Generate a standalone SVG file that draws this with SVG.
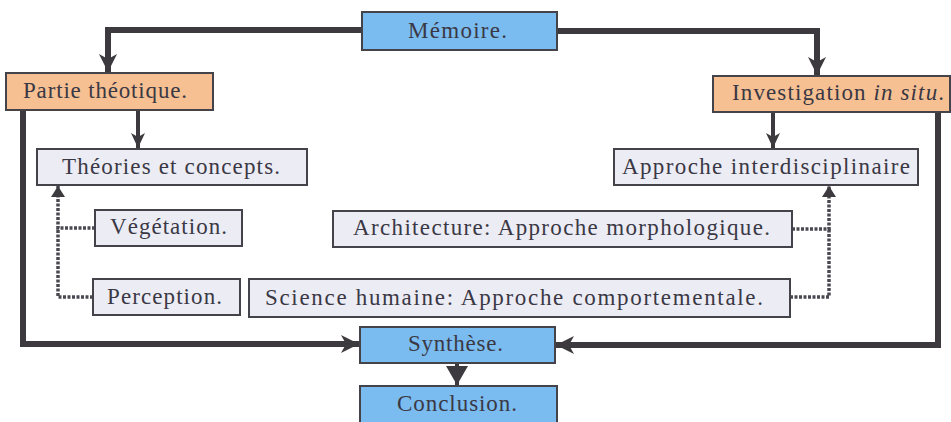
<svg xmlns="http://www.w3.org/2000/svg" width="951" height="422" viewBox="0 0 951 422">
  <style>
    .box { stroke: #45434a; stroke-width: 2; }
    .blue { fill: #7bbcf0; }
    .peach { fill: #f6c092; }
    .pale { fill: #ececf5; }
    text { font-family: "Liberation Serif", "Times New Roman", serif; font-size: 23px; fill: #3a3844; }
    .thick { fill: none; stroke: #3c3a3e; stroke-width: 6; }
    .thin { fill: none; stroke: #3c3a3e; stroke-width: 4; }
    .dot { fill: none; stroke: #4a4850; stroke-width: 3.5; stroke-dasharray: 3 1.5; }
  </style>
  <defs>
    <marker id="bigHead" markerUnits="userSpaceOnUse" markerWidth="20" markerHeight="20" viewBox="0 0 20 20" refX="18" refY="10" orient="auto">
      <path d="M0,1 L18,10 L0,19 L5,10 z" fill="#3c3a3e"/>
    </marker>
    <marker id="midHead" markerUnits="userSpaceOnUse" markerWidth="16" markerHeight="16" viewBox="0 0 16 16" refX="15" refY="8" orient="auto">
      <path d="M0,1 L15,8 L0,15 L4,8 z" fill="#3c3a3e"/>
    </marker>
    <marker id="dotHead" markerUnits="userSpaceOnUse" markerWidth="12" markerHeight="14" viewBox="0 0 12 14" refX="11" refY="7" orient="auto">
      <path d="M0,0 L11,7 L0,14 z" fill="#3c3a3e"/>
    </marker>
    <marker id="triHead" markerUnits="userSpaceOnUse" markerWidth="20" markerHeight="22" viewBox="0 0 20 22" refX="19" refY="11" orient="auto">
      <path d="M0,0 L19,11 L0,22 z" fill="#3c3a3e"/>
    </marker>
  </defs>

  <!-- connectors -->
  <g id="connectors">
    <path class="thick" d="M362,30 H108 V72" marker-end="url(#bigHead)"/>
    <path class="thick" d="M557,31 H817 V75" marker-end="url(#bigHead)"/>
    <path class="thin" d="M138,110 V148" marker-end="url(#midHead)"/>
    <path class="thin" d="M773,113 V148" marker-end="url(#midHead)"/>
    <path class="thick" d="M23,110 V344 H359" marker-end="url(#bigHead)"/>
    <path class="thick" d="M938,113 V345 H556" marker-end="url(#bigHead)"/>
    <path class="dot" d="M95,228 H58 V186" marker-end="url(#dotHead)"/>
    <path class="dot" d="M93,297 H58 V228"/>
    <path class="dot" d="M792,229 H829 V186" marker-end="url(#dotHead)"/>
    <path class="dot" d="M790,297 H829 V229"/>
    <path class="thin" d="M457,363 V385" marker-end="url(#triHead)"/>
  </g>

  <g id="memoire">
    <rect class="box blue" x="362" y="12" width="195" height="38"/>
    <text x="408" y="38" textLength="99" lengthAdjust="spacing">Mémoire.</text>
  </g>
  <g id="partie-theorique">
    <rect class="box peach" x="6" y="73" width="207" height="37"/>
    <text x="23" y="98" textLength="164" lengthAdjust="spacing">Partie théotique.</text>
  </g>
  <g id="investigation">
    <rect class="box peach" x="713" y="76" width="237" height="36"/>
    <text x="732" y="100" textLength="212" lengthAdjust="spacing">Investigation <tspan font-style="italic">in situ</tspan>.</text>
  </g>
  <g id="theories">
    <rect class="box pale" x="37" y="149" width="270" height="36"/>
    <text x="62" y="174" textLength="218" lengthAdjust="spacing">Théories et concepts.</text>
  </g>
  <g id="approche-inter">
    <rect class="box pale" x="614" y="149" width="304" height="36"/>
    <text x="622" y="174" textLength="288" lengthAdjust="spacing">Approche interdisciplinaire</text>
  </g>
  <g id="vegetation">
    <rect class="box pale" x="95" y="210" width="147" height="36"/>
    <text x="110" y="234" textLength="117" lengthAdjust="spacing">Végétation.</text>
  </g>
  <g id="architecture">
    <rect class="box pale" x="333" y="211" width="459" height="36"/>
    <text x="353" y="235" textLength="417" lengthAdjust="spacing">Architecture: Approche morphologique.</text>
  </g>
  <g id="perception">
    <rect class="box pale" x="93" y="279" width="147" height="36"/>
    <text x="107" y="304" textLength="115" lengthAdjust="spacing">Perception.</text>
  </g>
  <g id="science-humaine">
    <rect class="box pale" x="249" y="279" width="541" height="38"/>
    <text x="265" y="305" textLength="498" lengthAdjust="spacing">Science humaine: Approche comportementale.</text>
  </g>
  <g id="synthese">
    <rect class="box blue" x="360" y="327" width="195" height="36"/>
    <text x="408" y="351" textLength="95" lengthAdjust="spacing">Synthèse.</text>
  </g>
  <g id="conclusion">
    <rect class="box blue" x="360" y="386" width="197" height="38"/>
    <text x="397" y="411" textLength="120" lengthAdjust="spacing">Conclusion.</text>
  </g>
</svg>
